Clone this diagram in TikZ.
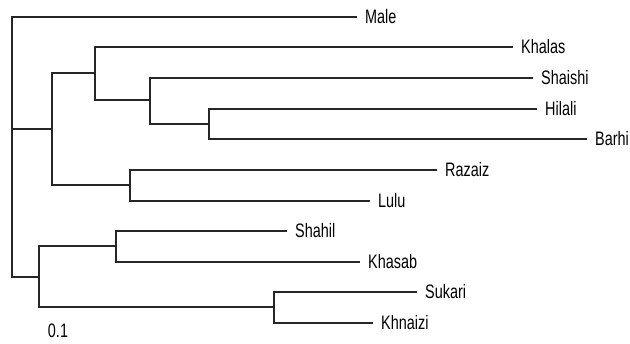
\documentclass[tikz,border=0pt]{standalone}
\usepackage{fontspec}
\setmainfont{Liberation Sans}[FakeStretch=0.74]
\usepackage{tikz}
\usetikzlibrary{calc}
\usetikzlibrary{positioning}

\begin{document}
\begin{tikzpicture}[x=1pt, y=-1pt,
        branch/.style={line width=1.3pt, black!85},
        leaf/.style={anchor=west, inner xsep=8pt, inner ysep=0pt, font=\fontsize{19.5}{19.5}\selectfont}]
            \useasboundingbox (0, 0) rectangle (630, 344);
            % inner nodes of the tree
            \coordinate (root) at (12, 129);
            \coordinate (nA) at (52, 129);
            \coordinate (nA1) at (95, 73);
            \coordinate (nA11) at (150, 100);
            \coordinate (nA111) at (209, 124);
            \coordinate (nA2) at (130, 185);
            \coordinate (nB) at (39, 277);
            \coordinate (nB1) at (116, 246);
            \coordinate (nB2) at (274, 307);
            % leaves
            \foreach \name/\x/\y in {Male/357/17, Khalas/513/47, Shaishi/533/78,
                Hilali/537/109, Barhi/587/139, Razaiz/437/170, Lulu/370/201,
                Shahil/287/231, Khasab/360/262, Sukari/417/292, Khnaizi/373/323}
            {
                \node[leaf] (\name) at (\x, \y) {\name};
            }
            \foreach \a/\b in {root/Male.west, root/nA, root/nB,
                nA/nA1, nA/nA2, nA1/Khalas.west, nA1/nA11,
                nA11/Shaishi.west, nA11/nA111, nA111/Hilali.west, nA111/Barhi.west,
                nA2/Razaiz.west, nA2/Lulu.west,
                nB/nB1, nB/nB2, nB1/Shahil.west, nB1/Khasab.west,
                nB2/Sukari.west, nB2/Khnaizi.west}
            {
                \draw[branch] (\a) |- (\b);
            }
            \node[font=\fontsize{19.5}{19.5}\selectfont, inner sep=0pt] (scale) at (58, 331) {0.1};
        \end{tikzpicture}
\end{document}
